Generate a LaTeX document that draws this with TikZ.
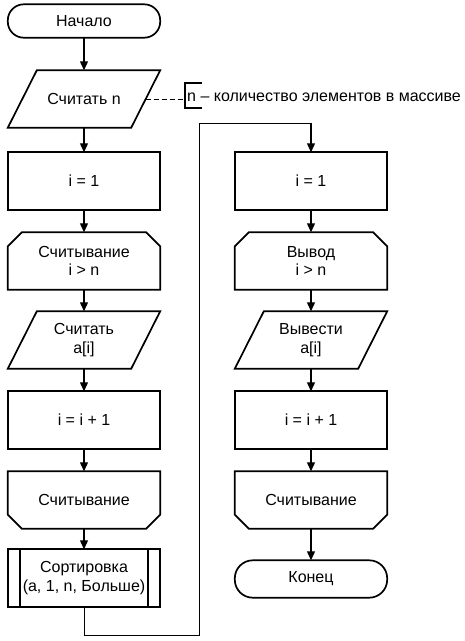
\documentclass[tikz,border=0pt]{standalone}
\usepackage{fontspec}
\setmainfont{Liberation Sans}
\usetikzlibrary{arrows.meta}
\begin{document}
\begin{tikzpicture}[x=1pt,y=-1pt,
  box/.style={rectangle, minimum width=152pt, minimum height=57pt, inner sep=0pt, align=center, font=\fontsize{16}{18.5}\selectfont},
  outline/.style={line width=1.7pt, line join=miter},
  conn/.style={line width=1.2pt, -{Triangle[width=8pt,length=9pt]}},
  loopline/.style={line width=0.9pt}
]
\useasboundingbox (0,0) rectangle (464,641);

% left column
\node[box, minimum height=33pt] (start) at (84,21) {Начало};
\node[box] (rn) at (84,99) {Считать n};
\node[box] (i1) at (84,181) {i = 1};
\node[box] (ls1) at (84,261) {Считывание\\i > n};
\node[box] (ra) at (84,340) {Считать\\a[i]};
\node[box] (inc1) at (84,420) {i = i + 1};
\node[box] (le1) at (84,500) {Считывание};
\node[box] (sort) at (84,578) {Сортировка\\(a, 1, n, Больше)};

% right column
\node[box] (i2) at (311,181) {i = 1};
\node[box] (ls2) at (311,261) {Вывод\\i > n};
\node[box] (wa) at (311,340) {Вывести\\a[i]};
\node[box] (inc2) at (311,420) {i = i + 1};
\node[box] (le2) at (311,500) {Считывание};
\node[box, minimum height=37pt] (end) at (311,579) {Конец};

% outlines
\draw[outline, rounded corners=16pt] (start.north west) rectangle (start.south east);
\draw[outline, rounded corners=18pt] (end.north west) rectangle (end.south east);
\foreach \p in {rn,ra,wa}{
  \draw[outline] ([xshift=29pt]\p.north west) -- (\p.north east) -- ([xshift=-29pt]\p.south east) -- (\p.south west) -- cycle;
}
\foreach \r in {i1,inc1,i2,inc2}{
  \draw[outline] (\r.north west) rectangle (\r.south east);
}
\foreach \l in {ls1,ls2}{
  \draw[outline] ([yshift=-14pt]\l.north west) -- ([xshift=14pt]\l.north west) -- ([xshift=-14pt]\l.north east) -- ([yshift=-14pt]\l.north east) -- (\l.south east) -- (\l.south west) -- cycle;
}
\foreach \l in {le1,le2}{
  \draw[outline] (\l.north west) -- (\l.north east) -- ([yshift=14pt]\l.south east) -- ([xshift=-14pt]\l.south east) -- ([xshift=14pt]\l.south west) -- ([yshift=14pt]\l.south west) -- cycle;
}
\draw[outline] (sort.north west) rectangle (sort.south east);
\draw[outline] ([xshift=12pt]sort.north west) -- ([xshift=12pt]sort.south west);
\draw[outline] ([xshift=-12pt]sort.north east) -- ([xshift=-12pt]sort.south east);

% connectors
\draw[conn] (start) -- (rn);
\draw[conn] (rn) -- (i1);
\draw[conn] (i1) -- (ls1);
\draw[conn] (ls1) -- (ra);
\draw[conn] (ra) -- (inc1);
\draw[conn] (inc1) -- (le1);
\draw[conn] (le1) -- (sort);
\draw[conn] (i2) -- (ls2);
\draw[conn] (ls2) -- (wa);
\draw[conn] (wa) -- (inc2);
\draw[conn] (inc2) -- (le2);
\draw[conn] (le2) -- (end);

% loop connector
\coordinate (c1) at (84,635);
\coordinate (c2) at (199,635);
\coordinate (c3) at (199,123);
\coordinate (c4) at (311,123);
\draw[loopline] (sort.south) -- (c1) -- (c2) -- (c3) -- (c4);
\draw[conn] (c4) -- (i2.north);

% annotation
\coordinate (b1) at (202,83);
\coordinate (b2) at (185,83);
\coordinate (b3) at (185,108);
\coordinate (b4) at (202,108);
\draw[line width=1.7pt] (b1) -- (b2) -- (b3) -- (b4);
\node[anchor=west, inner sep=0pt, font=\fontsize{16}{18.5}\selectfont] (note) at (187,97) {n – количество элементов в массиве};
\draw[line width=0.9pt, dash pattern=on 5pt off 3pt] ([xshift=-14.5pt]rn.east) -- (b2 |- rn.east);
\end{tikzpicture}
\end{document}
